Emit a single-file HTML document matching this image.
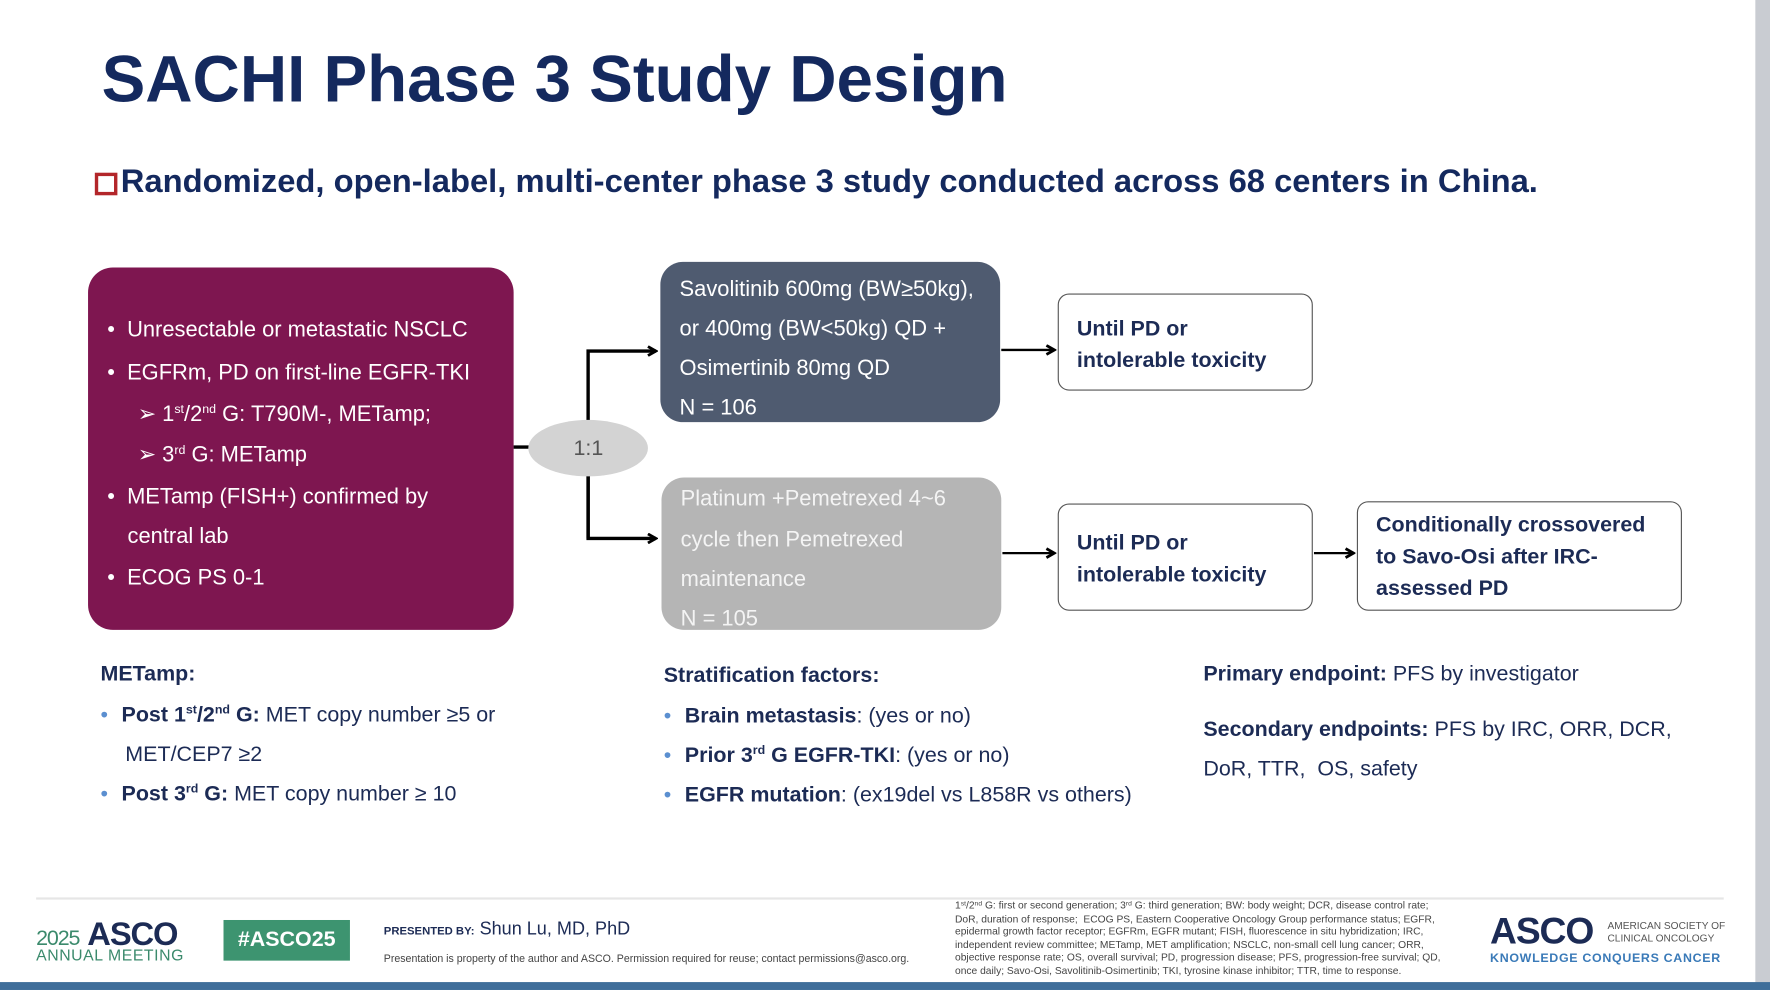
<!DOCTYPE html>
<html><head><meta charset="utf-8"><style>
*{margin:0;padding:0;box-sizing:border-box}
html,body{width:1770px;height:990px;overflow:hidden;background:#fff}
#s{position:absolute;left:0;top:0;width:1568px;height:877px;transform:scale(1.12883);transform-origin:0 0;font-family:"Liberation Sans",Arial,sans-serif;color:#1c2b55;background:#fff}
.a{position:absolute;white-space:nowrap}
.box{position:absolute}
.w{color:#fff;font-size:19.4px}
sup{font-size:11px;vertical-align:7px;line-height:0}
.b{font-weight:bold}
.t18{font-size:19px}
.dot{color:#5b8fd0;margin-right:12px}
</style></head><body><div id="s">
<div class="a b" style="left:90px;top:37px;font-size:58px;color:#14295e">SACHI Phase 3 Study Design</div>
<div class="box" style="left:84px;top:153px;width:20px;height:20px;border:3px solid #b3262a"></div>
<div class="a b" style="left:107px;top:145px;font-size:29px;color:#14295e">Randomized, open-label, multi-center phase 3 study conducted across 68 centers in China.</div>

<div class="box" style="left:78px;top:237px;width:377px;height:321px;background:#7e1650;border-radius:22px"></div>
<div class="a w" style="left:95px;top:281px">•&nbsp; Unresectable or metastatic NSCLC</div>
<div class="a w" style="left:95px;top:319px">•&nbsp; EGFRm, PD on first-line EGFR-TKI</div>
<div class="a w" style="left:122px;top:355px">➢ 1<sup>st</sup>/2<sup>nd</sup> G: T790M-, METamp;</div>
<div class="a w" style="left:122px;top:391px">➢ 3<sup>rd</sup> G: METamp</div>
<div class="a w" style="left:95px;top:429px">•&nbsp; METamp (FISH+) confirmed by</div>
<div class="a w" style="left:113px;top:464px">central lab</div>
<div class="a w" style="left:95px;top:501px">•&nbsp; ECOG PS 0-1</div>

<svg class="box" style="left:0;top:0" width="1568" height="877">
<defs><marker id="m" markerWidth="10" markerHeight="10" refX="8" refY="5" orient="auto" markerUnits="userSpaceOnUse"><path d="M1,1 L8,5 L1,9" fill="none" stroke="#000" stroke-width="2.5"/></marker></defs>
<line x1="455" y1="396" x2="472" y2="396" stroke="#000" stroke-width="3"/>
<path d="M521,477 L521,311 L581,311" fill="none" stroke="#000" stroke-width="3" marker-end="url(#m)"/>
<path d="M521,397 L521,477 L581,477" fill="none" stroke="#000" stroke-width="3" marker-end="url(#m)"/>
<ellipse cx="521" cy="397" rx="53" ry="25" fill="#d3d3d3"/>
<line x1="887" y1="310" x2="934" y2="310" stroke="#000" stroke-width="2" marker-end="url(#m)"/>
<line x1="888" y1="490" x2="934" y2="490" stroke="#000" stroke-width="2" marker-end="url(#m)"/>
<line x1="1164" y1="490" x2="1199" y2="490" stroke="#000" stroke-width="2" marker-end="url(#m)"/>
<line x1="32" y1="796" x2="1527" y2="796" stroke="#e6e6e6" stroke-width="2"/>
</svg>
<div class="a" style="left:508px;top:387px;font-size:19px;color:#555">1:1</div>

<div class="box" style="left:585px;top:232px;width:301px;height:142px;background:#4f5b70;border-radius:20px"></div>
<div class="a w" style="left:602px;top:245px">Savolitinib 600mg (BW≥50kg),</div>
<div class="a w" style="left:602px;top:280px">or 400mg (BW&lt;50kg) QD +</div>
<div class="a w" style="left:602px;top:315px">Osimertinib 80mg QD</div>
<div class="a w" style="left:602px;top:350px">N = 106</div>

<div class="box" style="left:586px;top:423px;width:301px;height:135px;background:#b5b5b5;border-radius:20px"></div>
<div class="a w" style="left:603px;top:431px;color:#f4f4f4">Platinum +Pemetrexed 4~6</div>
<div class="a w" style="left:603px;top:467px;color:#f4f4f4">cycle then Pemetrexed</div>
<div class="a w" style="left:603px;top:502px;color:#f4f4f4">maintenance</div>
<div class="a w" style="left:603px;top:537px;color:#f4f4f4">N = 105</div>

<div class="box" style="left:937px;top:260px;width:226px;height:86px;border:1.5px solid #555;border-radius:10px"></div>
<div class="a b t18" style="left:954px;top:278px;line-height:28px">Until PD or<br>intolerable toxicity</div>
<div class="box" style="left:937px;top:446px;width:226px;height:95px;border:1.5px solid #555;border-radius:10px"></div>
<div class="a b t18" style="left:954px;top:468px;line-height:28px">Until PD or<br>intolerable toxicity</div>
<div class="box" style="left:1202px;top:444px;width:288px;height:97px;border:1.5px solid #555;border-radius:10px"></div>
<div class="a b t18" style="left:1219px;top:452px;line-height:28px">Conditionally crossovered<br>to Savo-Osi after IRC-<br>assessed PD</div>

<div class="a b t18" style="left:89px;top:587px">METamp:</div>
<div class="a t18" style="left:89px;top:623px"><span class="dot">•</span><b>Post 1<sup>st</sup>/2<sup>nd</sup> G:</b> MET copy number ≥5 or</div>
<div class="a t18" style="left:111px;top:658px">MET/CEP7 ≥2</div>
<div class="a t18" style="left:89px;top:693px"><span class="dot">•</span><b>Post 3<sup>rd</sup> G:</b> MET copy number ≥ 10</div>

<div class="a b t18" style="left:588px;top:588px">Stratification factors:</div>
<div class="a t18" style="left:588px;top:624px"><span class="dot">•</span><b>Brain metastasis</b>: (yes or no)</div>
<div class="a t18" style="left:588px;top:659px"><span class="dot">•</span><b>Prior 3<sup>rd</sup> G EGFR-TKI</b>: (yes or no)</div>
<div class="a t18" style="left:588px;top:694px"><span class="dot">•</span><b>EGFR mutation</b>: (ex19del vs L858R vs others)</div>

<div class="a t18" style="left:1066px;top:587px"><b>Primary endpoint:</b> PFS by investigator</div>
<div class="a t18" style="left:1066px;top:629px;line-height:35px"><b>Secondary endpoints:</b> PFS by IRC, ORR, DCR,<br>DoR, TTR,&nbsp; OS, safety</div>

<div class="a" style="left:32px;top:812px;font-size:29px;color:#1c2b55;letter-spacing:-1px"><span style="font-size:19px;color:#3b8a6c">2025</span> <b>ASCO</b></div>
<div class="a" style="left:32px;top:838px;font-size:14px;color:#3b8a6c;letter-spacing:0.5px">ANNUAL MEETING</div>
<div class="box" style="left:198px;top:815px;width:112px;height:36px;background:#3d9470;color:#fff;font-weight:bold;font-size:19px;text-align:center;line-height:36px">#ASCO25</div>
<div class="a" style="left:340px;top:815px;font-size:16px"><span style="font-size:10px;font-weight:bold">PRESENTED BY:</span> Shun Lu, MD, PhD</div>
<div class="a" style="left:340px;top:843px;font-size:9.4px;color:#444">Presentation is property of the author and ASCO. Permission required for reuse; contact permissions@asco.org.</div>
<div class="a" style="left:846px;top:797px;font-size:9.1px;line-height:11.5px;color:#444">1<sup style="font-size:6px;vertical-align:3px">st</sup>/2<sup style="font-size:6px;vertical-align:3px">nd</sup> G: first or second generation; 3<sup style="font-size:6px;vertical-align:3px">rd</sup> G: third generation; BW: body weight; DCR, disease control rate;<br>DoR, duration of response;&nbsp; ECOG PS, Eastern Cooperative Oncology Group performance status; EGFR,<br>epidermal growth factor receptor; EGFRm, EGFR mutant; FISH, fluorescence in situ hybridization; IRC,<br>independent review committee; METamp, MET amplification; NSCLC, non-small cell lung cancer; ORR,<br>objective response rate; OS, overall survival; PD, progression disease; PFS, progression-free survival; QD,<br>once daily; Savo-Osi, Savolitinib-Osimertinib; TKI, tyrosine kinase inhibitor; TTR, time to response.</div>
<div class="a b" style="left:1320px;top:806px;font-size:33px;color:#1c2b55;letter-spacing:-1px">ASCO</div>
<div class="a" style="left:1424px;top:815px;font-size:9px;line-height:11px;color:#555">AMERICAN SOCIETY OF<br>CLINICAL ONCOLOGY</div>
<div class="a b" style="left:1320px;top:843px;font-size:11px;color:#3a7ab8;letter-spacing:0.6px">KNOWLEDGE CONQUERS CANCER</div>

<div class="box" style="left:1555px;top:0;width:13px;height:877px;background:#c9ccd2"></div>
<div class="box" style="left:0;top:870px;width:1568px;height:7px;background:#3f6e9a"></div>
</div></body></html>
